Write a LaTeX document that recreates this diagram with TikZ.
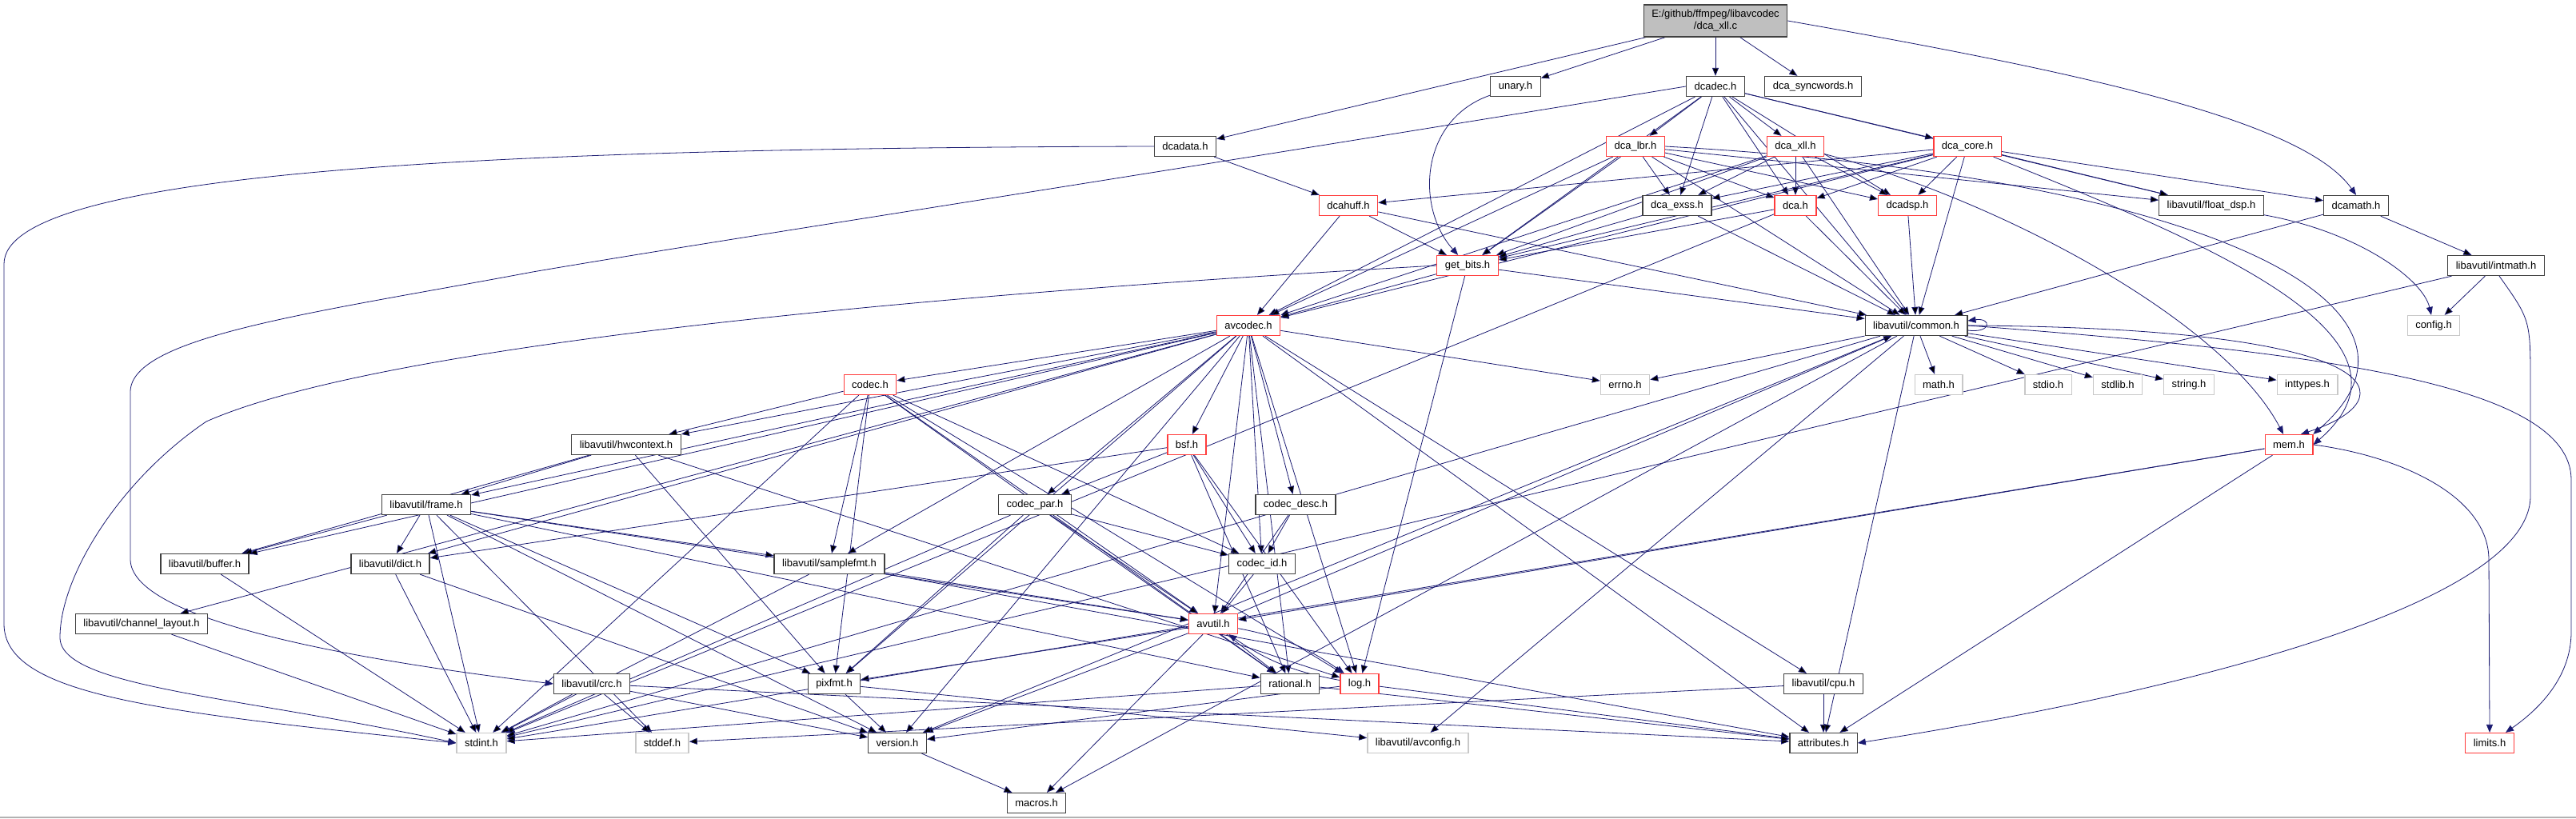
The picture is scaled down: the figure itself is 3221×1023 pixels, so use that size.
\documentclass[tikz,border=0pt]{standalone}
\usepackage{fontspec}
\setmainfont{Liberation Sans}
\usepackage{tikz}
\usetikzlibrary{arrows.meta,backgrounds}
\definecolor{edgeblue}{RGB}{25,25,112}
\definecolor{rootgray}{RGB}{191,191,191}
\definecolor{boxred}{RGB}{255,60,60}
\definecolor{sysgray}{RGB}{200,200,200}
\definecolor{boxline}{RGB}{64,64,64}

\begin{document}
\begin{tikzpicture}[
  x=1pt, y=-1pt,
  file/.style={draw=boxline, line width=1.3pt, fill=white, minimum height=25pt, inner xsep=10pt, inner ysep=0pt, font=\fontsize{13}{15}\selectfont},
  redfile/.style={file, draw=boxred},
  sysfile/.style={file, draw=sysgray},
  rootfile/.style={file, fill=rootgray, minimum height=40pt, align=center},
  dep/.style={-{Triangle[length=10pt,width=8pt]}, draw=edgeblue, line width=0.8pt}
]
\useasboundingbox (0,0) rectangle (3221,1023);

% files, row by row
\node[rootfile] (root) at (2145,26) {E:/github/ffmpeg/libavcodec\\/dca\_xll.c};
\node[file] (unary) at (1895,108) {unary.h};
\node[file] (dcadec) at (2145,108) {dcadec.h};
\node[file] (syncw) at (2267,108) {dca\_syncwords.h};
\node[file] (dcadata) at (1482,183) {dcadata.h};
\node[redfile] (lbr) at (2045,183) {dca\_lbr.h};
\node[redfile] (xll) at (2245,183) {dca\_xll.h};
\node[redfile] (core) at (2460,183) {dca\_core.h};
\node[redfile] (dcahuff) at (1686,257) {dcahuff.h};
\node[file] (exss) at (2097,257) {dca\_exss.h};
\node[redfile] (dca) at (2245,257) {dca.h};
\node[redfile] (dcadsp) at (2385,257) {dcadsp.h};
\node[file] (floatdsp) at (2765,257) {libavutil/float\_dsp.h};
\node[file] (dcamath) at (2946,257) {dcamath.h};
\node[redfile] (getbits) at (1835,332) {get\_bits.h};
\node[file] (intmath) at (3121,332) {libavutil/intmath.h};
\node[redfile] (avcodec) at (1561,407) {avcodec.h};
\node[file] (common) at (2396,407) {libavutil/common.h};
\node[sysfile] (config) at (3043,407) {config.h};
\node[redfile] (codec) at (1088,481) {codec.h};
\node[sysfile] (errno) at (2032,481) {errno.h};
\node[sysfile] (math) at (2424,481) {math.h};
\node[sysfile] (stdio) at (2561,481) {stdio.h};
\node[sysfile] (stdlib) at (2648,481) {stdlib.h};
\node[sysfile] (string) at (2737,481) {string.h};
\node[sysfile] (inttypes) at (2885,481) {inttypes.h};
\node[file] (hwctx) at (783,556) {libavutil/hwcontext.h};
\node[redfile] (bsf) at (1484,556) {bsf.h};
\node[redfile] (mem) at (2862,556) {mem.h};
\node[file] (frame) at (533,631) {libavutil/frame.h};
\node[file] (codecpar) at (1294,631) {codec\_par.h};
\node[file] (codecdesc) at (1620,631) {codec\_desc.h};
\node[file] (buffer) at (256,705) {libavutil/buffer.h};
\node[file] (dict) at (488,705) {libavutil/dict.h};
\node[file] (samplefmt) at (1037,705) {libavutil/samplefmt.h};
\node[file] (codecid) at (1578,705) {codec\_id.h};
\node[file] (chlayout) at (177,780) {libavutil/channel\_layout.h};
\node[redfile] (avutil) at (1517,780) {avutil.h};
\node[file] (crc) at (740,855) {libavutil/crc.h};
\node[file] (pixfmt) at (1043,855) {pixfmt.h};
\node[file] (rational) at (1613,855) {rational.h};
\node[redfile] (log) at (1700,855) {log.h};
\node[file] (cpu) at (2280,855) {libavutil/cpu.h};
\node[sysfile] (stdint) at (602,929) {stdint.h};
\node[sysfile] (stddef) at (828,929) {stddef.h};
\node[file] (version) at (1122,929) {version.h};
\node[sysfile] (avconfig) at (1773,929) {libavutil/avconfig.h};
\node[file] (attributes) at (2280,929) {attributes.h};
\node[redfile] (limits) at (3113,929) {limits.h};
\node[file] (macros) at (1296,1004) {macros.h};

\begin{scope}[on background layer]
% includes of the source file and its own headers
\draw[dep] (root) edge (dcadata) edge (unary) edge (dcadec) edge (syncw);
\draw[dep] (root.east) .. controls (2600,90) and (2880,150) .. (dcamath.north);
\draw[dep] (unary) .. controls (1775,150) and (1770,260) .. (getbits);
\draw[dep] (dcadata) edge (dcahuff);
\draw[dep] (dcadata.west) .. controls (600,185) and (5,215) .. (5,330) -- (5,780) .. controls (5,870) and (200,890) .. (stdint.west);
\draw[dep] (dcadec) edge (lbr) edge (xll) edge (core) edge (exss) edge (dca) edge (dcadsp) edge (floatdsp) edge (common) edge (getbits) edge (avcodec);
\draw[dep] (dcadec.west) .. controls (1300,240) and (900,300) .. (666,340) .. controls (400,390) and (163,420) .. (163,490) -- (163,700) .. controls (165,770) and (400,820) .. (crc.west);
\draw[dep] (lbr) edge (dca) edge (exss) edge (dcadsp) edge (getbits) edge (avcodec) edge (common) edge (floatdsp);
\draw[dep] (lbr.east) .. controls (2750,220) and (3080,380) .. (mem.north east);
\draw[dep] (xll) edge (dca) edge (exss) edge (dcadsp) edge (getbits) edge (avcodec) edge (common);
\draw[dep] (xll) .. controls (2500,250) and (2780,400) .. (mem);
\draw[dep] (core) edge (dcahuff) edge (exss) edge (dca) edge (dcadsp) edge (floatdsp) edge (dcamath) edge (getbits) edge (avcodec) edge (common);
\draw[dep] (core) .. controls (2750,300) and (3050,420) .. (mem.east);
\draw[dep] (dcahuff) edge (getbits) edge (avcodec) edge (common);
\draw[dep] (exss) edge (getbits) edge (common);
\draw[dep] (dca) edge (getbits) edge (common) edge (stdint);
\draw[dep] (dcadsp) edge (common);
\draw[dep] (floatdsp) .. controls (2950,290) and (3030,350) .. (config);
\draw[dep] (dcamath) edge (common) edge (intmath);
\draw[dep] (intmath) edge (config) edge (stdint);
\draw[dep] ([xshift=4pt]intmath.south) .. controls (3164,400) .. (3164,480) -- (3164,620) .. controls (3164,760) and (2700,870) .. (attributes.east);
\draw[dep] (getbits) edge (avcodec) edge (common) edge (log);
\draw[dep] (getbits.west) .. controls (1300,360) and (500,420) .. (258,527) .. controls (150,600) and (75,720) .. (75,797) .. controls (75,860) and (300,870) .. (stdint.west);
% libavcodec headers
\draw[dep] (avcodec) edge (codec) edge (errno) edge (samplefmt) edge (attributes) edge (avutil) edge (buffer) edge (cpu) edge (chlayout) edge (dict) edge (frame) edge (hwctx) edge (log) edge (pixfmt) edge (rational) edge (bsf) edge (codecdesc) edge (codecpar) edge (codecid) edge (version);
\draw[dep] (codec) edge (hwctx) edge (stdint) edge (avutil) edge (log) edge (pixfmt) edge (rational) edge (samplefmt) edge (codecid);
\draw[dep] (bsf) edge (dict) edge (codecpar) edge (codecid) edge (log) edge (rational);
\draw[dep] (codecpar) edge (stdint) edge (avutil) edge (rational) edge (pixfmt) edge (codecid);
\draw[dep] (codecdesc) edge (codecid) edge (avutil);
\draw[dep] (codecid) edge (avutil);
% libavutil headers
\draw[dep] (hwctx) edge (frame) edge (buffer) edge (log) edge (pixfmt);
\draw[dep] (frame) edge (buffer) edge (dict) edge (samplefmt) edge (avutil) edge (rational) edge (pixfmt) edge (version) edge (stddef) edge (stdint);
\draw[dep] (buffer) edge (stdint);
\draw[dep] (dict) edge (stdint) edge (version);
\draw[dep] (chlayout) edge (stdint);
\draw[dep] (samplefmt) edge (avutil) edge (stdint) edge (attributes);
\draw[dep] (avutil) edge (common) edge (rational) edge (version) edge (macros) edge (pixfmt);
\draw[dep] (avutil) to[bend left=12] (log);
\draw[dep] (log) to[bend left=12] (avutil);
\draw[dep] (log) edge (attributes) edge (version);
\draw[dep] (crc) edge (stdint) edge (stddef) edge (attributes) edge (version);
\draw[dep] (pixfmt) edge (version) edge (avconfig);
\draw[dep] (rational) edge (stdint) edge (attributes);
\draw[dep] (cpu) edge (attributes) edge (stddef);
\draw[dep] (version) edge (macros);
\draw[dep] (common) edge (errno) edge (math) edge (stdio) edge (stdlib) edge (string) edge (inttypes) edge (stdint) edge (attributes) edge (version) edge (macros) edge (avconfig);
\draw[dep] (common.east) .. controls (3000,410) and (3010,500) .. ([xshift=15pt]mem.north);
\draw[dep] ([yshift=-6pt]common.east) .. controls +(30,4) and +(30,-4) .. ([yshift=6pt]common.east);
\draw[dep] (common.east) .. controls (2900,440) and (3215,480) .. (3215,600) -- (3215,790) .. controls (3215,850) and (3170,890) .. ([xshift=20pt]limits.north);
\draw[dep] (mem) edge (avutil) edge (attributes) edge (stdint);
\draw[dep] (mem.east) .. controls (3000,570) and (3112,620) .. (3112,700) -- (limits.north);
\end{scope}
\draw[gray!60, line width=1.5pt] (0,1022) -- (3221,1022);
\end{tikzpicture}
\end{document}
